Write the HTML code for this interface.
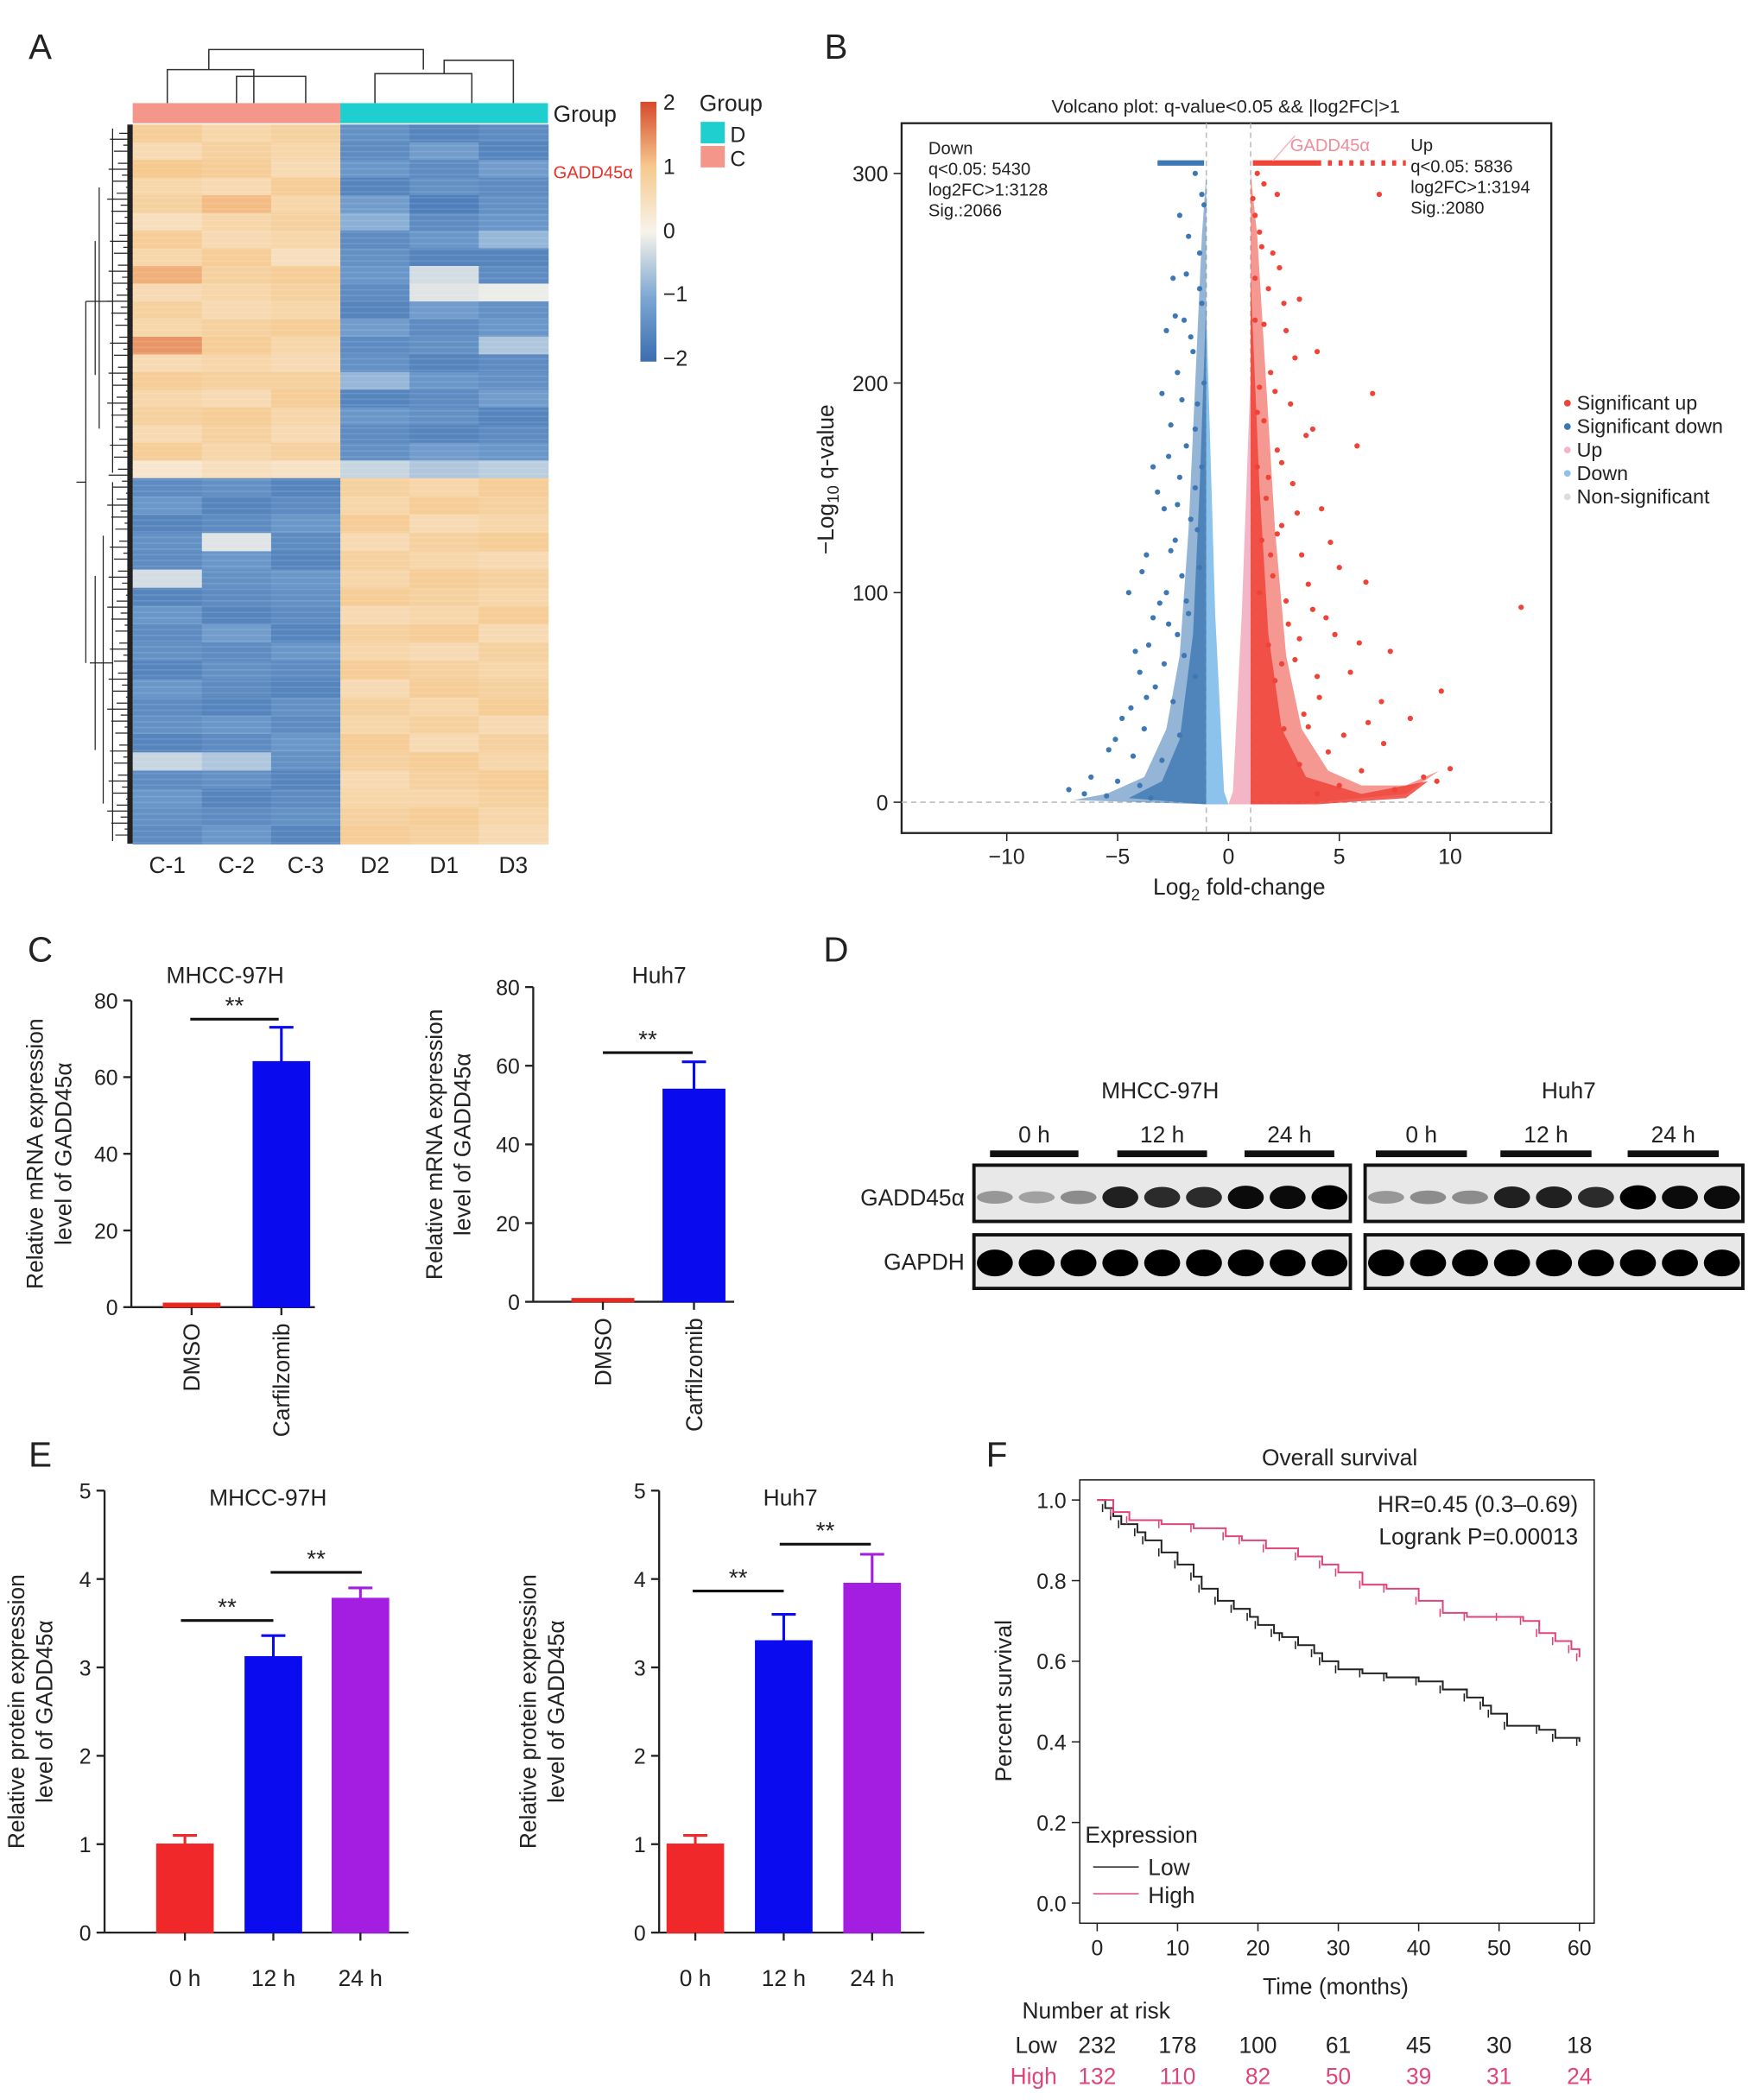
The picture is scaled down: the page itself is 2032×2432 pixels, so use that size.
<!DOCTYPE html>
<html><head><meta charset="utf-8"><style>
html,body{margin:0;padding:0;background:#fff}
svg{display:block}
text{font-family:"Liberation Sans",Arial,sans-serif;fill:#222}
</style></head><body>
<svg id="fig" width="2032" height="2432" viewBox="0 0 1310 1568" xmlns="http://www.w3.org/2000/svg">
<g id="heat"></g>
<g id="volc"></g>
<g id="barsC"></g>
<g id="blot"></g>
<g id="barsE"></g>
<g id="surv"></g>
</svg>
<script>
// ---------- data ----------
const heatCols = ["C-1","C-2","C-3","D2","D1","D3"];
const heatTop = [
[0.9,0.7,0.8,-1.4,-1.6,-1.5],[0.6,0.8,0.7,-1.5,-1.2,-1.6],[1.0,0.9,0.6,-1.3,-1.5,-1.2],[0.7,0.6,0.9,-1.6,-1.4,-1.5],
[0.8,1.1,0.7,-1.2,-1.7,-1.4],[0.5,0.7,0.8,-0.9,-1.5,-1.3],[0.9,0.6,0.7,-1.5,-1.3,-0.8],[0.7,0.9,0.5,-1.4,-1.6,-1.6],
[1.2,0.8,0.9,-1.3,-0.3,-1.5],[0.6,0.7,0.8,-1.5,-0.2,-0.1],[0.8,0.6,0.7,-1.6,-1.2,-1.4],[0.7,0.8,0.9,-1.2,-1.5,-1.3],
[1.4,0.9,0.7,-1.5,-1.4,-0.6],[0.6,0.7,0.6,-1.4,-1.6,-1.5],[0.9,0.8,0.8,-0.8,-1.3,-1.4],[0.7,0.6,0.9,-1.6,-1.5,-1.2],
[0.8,0.9,0.7,-1.3,-1.4,-1.6],[0.6,0.8,0.6,-1.5,-1.6,-1.5],[0.9,0.7,0.8,-1.4,-1.2,-1.3],[0.3,0.5,0.4,-0.4,-0.6,-0.5]
];
const heatBottom = [
[-1.5,-1.4,-1.6,0.8,0.7,0.9],[-1.3,-1.6,-1.5,0.7,0.9,0.8],[-1.6,-1.5,-1.3,0.9,0.6,0.7],[-1.4,-0.2,-1.5,0.6,0.8,0.9],
[-1.5,-1.3,-1.6,0.8,0.7,0.6],[-0.3,-1.4,-1.3,0.7,0.9,0.8],[-1.6,-1.5,-1.4,0.9,0.8,0.7],[-1.3,-1.6,-1.5,0.6,0.7,0.9],
[-1.5,-1.2,-1.6,0.8,0.9,0.6],[-1.4,-1.5,-1.3,0.7,0.6,0.8],[-1.6,-1.4,-1.5,0.9,0.8,0.7],[-1.3,-1.5,-1.6,0.6,0.9,0.8],
[-1.5,-1.6,-1.4,0.8,0.7,0.9],[-1.4,-1.3,-1.5,0.7,0.8,0.6],[-1.6,-1.5,-1.3,0.9,0.6,0.8],[-0.4,-0.6,-1.4,0.8,0.9,0.7],
[-1.5,-1.4,-1.6,0.6,0.8,0.9],[-1.3,-1.6,-1.5,0.7,0.7,0.8],[-1.4,-1.5,-1.4,0.8,0.9,0.7],[-1.5,-1.3,-1.6,0.9,0.8,0.6]
];
const volDown = [[-1.5,300],[-1.2,290],[-2.2,280],[-1.8,270],[-2.5,250],[-1.3,245],[-2.0,230],[-2.8,225],[-1.6,215],[-2.3,205],
[-3.0,195],[-1.4,190],[-2.6,180],[-1.9,170],[-3.4,160],[-2.2,155],[-1.5,150],[-2.9,140],[-1.7,135],[-2.4,125],[-3.7,118],
[-1.3,112],[-2.1,108],[-4.5,100],[-3.1,95],[-1.8,90],[-2.7,85],[-3.6,75],[-2.0,70],[-4.0,62],[-1.5,60],[-3.3,55],[-2.5,48],
[-4.8,40],[-3.8,35],[-2.2,32],[-5.4,25],[-4.3,22],[-3.0,20],[-6.2,12],[-5.0,10],[-4.0,8],[-7.2,6],[-6.5,4],[-5.5,3],[-3.5,2],
[-1.1,285],[-1.3,262],[-1.9,252],[-1.2,238],[-2.4,232],[-1.7,222],[-1.1,200],[-2.1,192],[-1.5,178],[-2.7,165],[-1.2,160],
[-3.2,148],[-2.3,142],[-1.4,130],[-2.6,120],[-3.9,110],[-2.8,100],[-1.9,96],[-3.4,88],[-2.3,80],[-4.2,72],[-2.9,66],[-3.7,50],[-4.4,45],[-5.1,30]];
const volUp = [[1.3,300],[1.6,295],[2.2,290],[1.2,280],[6.8,290],[1.5,265],[2.3,255],[1.8,245],[3.2,240],[1.2,230],[2.6,225],
[4.0,215],[1.9,205],[1.4,198],[2.8,190],[6.5,195],[1.6,182],[3.5,175],[2.2,168],[1.3,160],[5.8,170],[2.9,152],[1.7,145],
[4.2,140],[2.4,132],[1.5,125],[3.3,118],[5.0,112],[2.0,108],[6.2,105],[1.4,100],[13.2,93],[3.8,92],[2.7,85],[4.8,80],
[1.8,75],[7.3,72],[3.0,68],[5.5,62],[2.1,58],[9.6,53],[4.1,50],[6.9,48],[3.4,42],[8.2,40],[2.5,35],[5.2,32],[7.0,28],
[4.5,24],[10.0,16],[3.2,18],[6.0,15],[8.8,12],[5.0,8],[7.5,6],[9.4,10],[4.0,4],
[1.1,288],[1.4,272],[2.0,262],[1.2,250],[2.5,238],[1.6,228],[3.0,212],[2.1,196],[1.3,186],[3.8,178],[2.4,162],[1.8,155],
[3.1,138],[2.2,128],[4.6,124],[1.9,118],[3.6,104],[2.6,96],[4.4,88],[3.2,78],[5.9,76],[2.4,66],[4.0,60],[3.6,36],[6.3,38]];
const barCcats = ["DMSO","Carfilzomib"];
const barCmh = [1,64]; const barCmhErr = [0.3,73];
const barChuh = [0.8,54]; const barChuhErr = [0.3,61];
const barEcats = ["0 h","12 h","24 h"];
const barEmh = [1.0,3.12,3.78]; const barEmhErr = [1.1,3.36,3.9];
const barEhuh = [1.0,3.3,3.95]; const barEhuhErr = [1.1,3.6,4.28];
const survLowT = [0,1,2,3,5,6,8,10,12,13,15,17,19,20,22,23,25,27,28,30,33,36,40,43,46,48,49,51,55,57,60];
const survLowS = [1,0.98,0.96,0.94,0.92,0.9,0.87,0.84,0.81,0.78,0.75,0.73,0.71,0.69,0.67,0.66,0.64,0.62,0.6,0.58,0.57,0.56,0.55,0.53,0.51,0.49,0.47,0.44,0.43,0.41,0.40];
const survHighT = [0,2,4,8,12,16,18,21,25,28,30,33,36,40,43,46,50,53,55,57,59,60];
const survHighS = [1,0.97,0.95,0.94,0.93,0.91,0.9,0.88,0.86,0.84,0.82,0.79,0.78,0.75,0.72,0.71,0.71,0.7,0.67,0.65,0.63,0.61];
const riskLow = [232,178,100,61,45,30,18];
const riskHigh = [132,110,82,50,39,31,24];

// ---------- helpers ----------
const NS="http://www.w3.org/2000/svg";
function mk(p,tag,a,txt){const e=document.createElementNS(NS,tag);for(const k in a)e.setAttribute(k,a[k]);if(txt!==undefined)e.textContent=txt;p.appendChild(e);return e;}
function T(p,x,y,s,size,anchor,extra){const a=Object.assign({x:x,y:y,'font-size':size||16,'text-anchor':anchor||'middle'},extra||{});return mk(p,'text',a,s);}
function lerp(a,b,t){return a+(b-a)*t;}
function hex(c){return [parseInt(c.slice(1,3),16),parseInt(c.slice(3,5),16),parseInt(c.slice(5,7),16)];}
const stops=[[-2,"#3b6eb0"],[-1,"#7ea8d3"],[0,"#f8f3ea"],[1,"#f6c98e"],[2,"#d64a2c"]];
function cmap(v){v=Math.max(-2,Math.min(2,v));for(let i=0;i<4;i++){if(v<=stops[i+1][0]){const t=v-stops[i][0];const a=hex(stops[i][1]),b=hex(stops[i+1][1]);return `rgb(${a.map((x,j)=>Math.round(lerp(x,b[j],t))).join(',')})`;}}return stops[4][1];}

// ---------- A heatmap ----------
(function(){
const g=document.getElementById('heat');
let t=T(g,30,44,'A',26);
const x0=99,x1=409,cw=(x1-x0)/6,yTop=93,yMid=357,yBot=630;
const hx=i=>x0+i*cw;
function drawRows(rows,ya,yb){const rh=(yb-ya)/rows.length;rows.forEach((r,ri)=>r.forEach((v,ci)=>{const c=mk(g,'rect',{x:hx(ci),y:ya+ri*rh,width:cw+0.5,height:rh+0.5,fill:cmap(v)});

}));}
drawRows(heatTop,yTop,yMid);drawRows(heatBottom,yMid,yBot);
// fine stripe texture
let sd='';for(let y=yTop+3;y<yBot;y+=4.3){sd+=`M${x0},${y.toFixed(1)}H${x1} `;}
mk(g,'path',{d:sd,stroke:'#ffffff','stroke-opacity':0.12,'stroke-width':1});
let r1=mk(g,'rect',{x:x0,y:77,width:cw*3,height:15,fill:'#f4968a'});
let r2=mk(g,'rect',{x:x0+cw*3,y:77,width:cw*3,height:15,fill:'#1fcfd0'});
T(g,413,91,'Group',17,'start');
mk(g,'path',{d:`M${hx(0.5)},77V52H${hx(1.75)}V77 M${hx(1.5)},77V57H${hx(2.5)}V77 M${hx(1.1)},52V37H${hx(4.2)}V52 M${hx(3.5)},77V55H${hx(4.9)}V77 M${hx(4.5)},55V45H${hx(5.5)}V77`,stroke:'#333',fill:'none','stroke-width':1});
let d='';for(let i=0;i<120;i++){const y=yTop+2+i*(yBot-yTop-4)/119;const len=3+((i*7)%17);d+=`M${x0},${y.toFixed(1)}H${x0-len} `;}
d+=`M${x0-15},96V353 M${x0-15},360V628 M${x0-15},225H${x0-35} M${x0-15},495H${x0-32} M${x0-35},225V495 M${x0-35},360H${x0-42} M${x0-25},140V320 M${x0-22},400V600 M${x0-28},180V280 M${x0-28},430V560`;
mk(g,'path',{d:d,stroke:'#222',fill:'none','stroke-width':0.8});
mk(g,'rect',{x:x0-4,y:yTop,width:4,height:yBot-yTop,fill:'#222'});
heatCols.forEach((c,i)=>{T(g,hx(i+0.5),652,c,17);});
let gl=T(g,413,133,'GADD45α',13,'start');gl.style.fill='#e8322a';
const defs=mk(g,'defs',{});const lg=mk(defs,'linearGradient',{id:'cb',x1:0,y1:0,x2:0,y2:1});
[["0","#d64a2c"],["0.25","#f6c98e"],["0.5","#f8f3ea"],["0.75","#7ea8d3"],["1","#3b6eb0"]].forEach(s=>mk(lg,'stop',{offset:s[0],'stop-color':s[1]}));
let cb=mk(g,'rect',{x:478,y:76,width:12,height:194,fill:'url(#cb)'});
[["2",82],["1",130],["0",178],["−1",225],["−2",273]].forEach(a=>T(g,495,a[1],a[0],16,'start'));
T(g,522,83,'Group',17,'start');
mk(g,'rect',{x:523,y:91,width:18,height:16,fill:'#1fcfd0'});T(g,545,106,'D',16,'start');
mk(g,'rect',{x:523,y:109,width:18,height:16,fill:'#f4968a'});T(g,545,124,'C',16,'start');
})();

// ---------- B volcano ----------
(function(){
const g=document.getElementById('volc');
T(g,624,44,'B',26);
const vx=v=>917+16.55*v, vy=q=>599-1.565*q;
T(g,915,84,'Volcano plot: q-value<0.05 && |log2FC|>1',14);
const box=mk(g,'rect',{x:673,y:92,width:485,height:530,fill:'none',stroke:'#222','stroke-width':1.5});

mk(g,'path',{d:`M${vx(-1)},92V622 M${vx(1)},92V622 M673,${vy(0)}H1158`,stroke:'#bbb','stroke-dasharray':'4,3','stroke-width':1});
const poly=(pts,fill,op)=>mk(g,'polygon',{points:pts.map(p=>vx(p[0])+','+vy(p[1])).join(' '),fill:fill,'fill-opacity':op});
poly([[-1,0],[-1,300],[-1.2,270],[-1.5,200],[-1.8,130],[-2.2,70],[-2.8,35],[-3.8,12],[-5.5,4],[-7,1],[-1,-1]],'#3d78b4',0.55);
poly([[-1,0],[-1,240],[-1.3,150],[-1.6,80],[-2.2,30],[-3,10],[-4.5,2],[-1,-1]],'#3d78b4',0.8);
poly([[-1,-1],[-1,235],[-0.6,90],[-0.2,5],[0,-1]],'#8cc3ec',1);
poly([[0,-1],[0.2,5],[0.6,90],[1,205],[1,-1]],'#f4b6c6',1);
poly([[1,-1],[1,300],[1.3,270],[1.7,200],[2.1,130],[2.6,70],[3.3,35],[4.5,15],[6,8],[8,8],[9.5,15],[8,4],[5,1],[3,-1]],'#ef4338',0.55);
poly([[1,-1],[1,250],[1.4,150],[1.8,80],[2.4,35],[3.5,12],[6,4],[9,10],[8,2],[4,-1]],'#ef4338',0.85);
volDown.forEach(p=>{const c=mk(g,'circle',{cx:vx(p[0]),cy:vy(p[1]),r:2,fill:'#3d78b4'});

});
volUp.forEach(p=>{const c=mk(g,'circle',{cx:vx(p[0]),cy:vy(p[1]),r:2,fill:'#ef4338'});

});
mk(g,'line',{x1:vx(-3.2),x2:vx(-1.1),y1:vy(305),y2:vy(305),stroke:'#3d78b4','stroke-width':4});
mk(g,'line',{x1:vx(1.1),x2:vx(4),y1:vy(305),y2:vy(305),stroke:'#ef4338','stroke-width':4});
mk(g,'line',{x1:vx(4),x2:vx(8),y1:vy(305),y2:vy(305),stroke:'#ef4338','stroke-width':4,'stroke-dasharray':'3,5'});
mk(g,'line',{x1:vx(2),x2:vx(3),y1:vy(306),y2:vy(318),stroke:'#f4b6c6','stroke-width':1});
let gl=T(g,963,113,'GADD45α',13,'start');gl.style.fill='#f08c9c';
['Down','q<0.05: 5430','log2FC>1:3128','Sig.:2066'].forEach((s,i)=>T(g,693,115+i*15.5,s,13,'start'));
['Up','q<0.05: 5836','log2FC>1:3194','Sig.:2080'].forEach((s,i)=>T(g,1053,113+i*15.5,s,13,'start'));
[-10,-5,0,5,10].forEach(v=>{mk(g,'line',{x1:vx(v),x2:vx(v),y1:622,y2:628,stroke:'#222'});T(g,vx(v),645,v<0?'−'+(-v):''+v,16);});
[0,100,200,300].forEach(v=>{mk(g,'line',{x1:667,x2:673,y1:vy(v),y2:vy(v),stroke:'#222'});T(g,663,vy(v)+6,''+v,16,'end');});
const xt=T(g,925,668,'',17);xt.innerHTML='Log<tspan font-size="12" dy="4">2</tspan><tspan dy="-4"> fold-change</tspan>';
const yt=T(g,0,0,'',17,'middle',{transform:'translate(622,358) rotate(-90)'});yt.innerHTML='−Log<tspan font-size="12" dy="4">10</tspan><tspan dy="-4"> q-value</tspan>';
[['Significant up','#ef4338'],['Significant down','#3d78b4'],['Up','#f4b6c6'],['Down','#8cc3ec'],['Non-significant','#ddd']].forEach((l,i)=>{
const y=306+i*17.5;mk(g,'circle',{cx:1170,cy:y-5,r:2.5,fill:l[1]});T(g,1177,y,l[0],15,'start');});
})();

// ---------- bar chart helper ----------
function barChart(g,opt){
const {ax,y0,yTop,max,ticks,centers,w,vals,errs,colors,cats,title,titleX,rotCats,ylab}=opt;
const sy=v=>y0-(y0-yTop)*v/max;
T(g,titleX,opt.titleY,title,17);
mk(g,'line',{x1:ax,x2:ax,y1:sy(max),y2:y0,stroke:'#222','stroke-width':1.5});
mk(g,'line',{x1:ax,x2:opt.axEnd,y1:y0,y2:y0,stroke:'#222','stroke-width':1.5});
ticks.forEach(t=>{mk(g,'line',{x1:ax-6,x2:ax,y1:sy(t),y2:sy(t),stroke:'#222','stroke-width':1.5});T(g,ax-10,sy(t)+6,''+t,16,'end');});
vals.forEach((v,i)=>{const cx=centers[i];
mk(g,'line',{x1:cx,x2:cx,y1:sy(errs[i]),y2:sy(v),stroke:colors[i],'stroke-width':2});
mk(g,'line',{x1:cx-9,x2:cx+9,y1:sy(errs[i]),y2:sy(errs[i]),stroke:colors[i],'stroke-width':2});
const b=mk(g,'rect',{x:cx-w/2,y:sy(v),width:w,height:y0-sy(v),fill:colors[i],stroke:colors[i]});


mk(g,'line',{x1:cx,x2:cx,y1:y0,y2:y0+6,stroke:'#222','stroke-width':1.5});
if(rotCats)T(g,0,0,cats[i],17,'end',{transform:`translate(${cx+6},${y0+12}) rotate(-90)`});
else T(g,cx,y0+40,cats[i],17);
});
const lt=T(g,0,0,'',17,'middle',{transform:`translate(${opt.ylx},${(y0+sy(max))/2}) rotate(-90)`});
lt.innerHTML=`<tspan x="0" dy="0">${ylab}</tspan><tspan x="0" dy="21">level of GADD45α</tspan>`;
(opt.sig||[]).forEach(s=>{mk(g,'line',{x1:s[0],x2:s[1],y1:s[2],y2:s[2],stroke:'#111','stroke-width':2});T(g,(s[0]+s[1])/2,s[2]-4,'**',18);});
return sy;
}

// ---------- C ----------
(function(){
const g=document.getElementById('barsC');
T(g,30,718,'C',26);
barChart(g,{ax:98,axEnd:235,y0:976,yTop:747,max:80,ticks:[0,20,40,60,80],centers:[143,210],w:42,vals:barCmh,errs:barCmhErr,colors:['#e8281f','#0a0aee'],cats:barCcats,title:'MHCC-97H',titleX:168,titleY:734,rotCats:true,ylab:'Relative mRNA expression',ylx:32,sig:[[142,208,761]]});
barChart(g,{ax:398,axEnd:548,y0:972,yTop:737,max:80,ticks:[0,20,40,60,80],centers:[450,518],w:46,vals:barChuh,errs:barChuhErr,colors:['#e8281f','#0a0aee'],cats:barCcats,title:'Huh7',titleX:492,titleY:734,rotCats:true,ylab:'Relative mRNA expression',ylx:330,sig:[[450,517,786]]});
})();

// ---------- D blot ----------
(function(){
const g=document.getElementById('blot');
T(g,624,718,'D',26);
T(g,866,820,'MHCC-97H',17);T(g,1171,820,'Huh7',17);
const groups=[[739,805,'0 h'],[834,901,'12 h'],[929,996,'24 h'],[1027,1095,'0 h'],[1120,1188,'12 h'],[1215,1283,'24 h']];
groups.forEach(q=>{T(g,(q[0]+q[1])/2,853,q[2],17);mk(g,'rect',{x:q[0],y:859,width:q[1]-q[0],height:5,fill:'#111'});});
T(g,720,900,'GADD45α',17,'end');T(g,720,948,'GAPDH',17,'end');
const gInt=[0.3,0.25,0.35,0.85,0.8,0.8,0.95,0.95,1.0, 0.3,0.35,0.35,0.85,0.85,0.8,1.0,0.95,0.95];
[[727,1008],[1019,1301]].forEach((bx,bi)=>{
[[870,912],[922,962]].forEach((row,ri)=>{
const r=mk(g,'rect',{x:bx[0],y:row[0],width:bx[1]-bx[0],height:row[1]-row[0],fill:'#e8e8e8',stroke:'#111','stroke-width':2.5});

const lw=(bx[1]-bx[0])/9;
for(let i=0;i<9;i++){const it=ri?1:gInt[bi*9+i];const cx=bx[0]+lw*(i+0.5),cy=(row[0]+row[1])/2+(ri?1:3);
const sh=Math.round(215*(1-it));
mk(g,'ellipse',{cx:cx,cy:cy,rx:lw*0.43,ry:ri?10:(3+6*it),fill:`rgb(${sh},${sh},${sh})`});}
});});
})();

// ---------- E ----------
(function(){
const g=document.getElementById('barsE');
T(g,30,1095,'E',26);
const cols=['#f0282a','#0b0bf0','#a31ee0'];
barChart(g,{ax:78,axEnd:305,y0:1443,yTop:1113,max:5,ticks:[0,1,2,3,4,5],centers:[138,204,269],w:42,vals:barEmh,errs:barEmhErr,colors:cols,cats:barEcats,title:'MHCC-97H',titleX:200,titleY:1124,rotCats:false,ylab:'Relative protein expression',ylx:18,sig:[[135,204,1210],[202,270,1174]]});
barChart(g,{ax:492,axEnd:690,y0:1443,yTop:1113,max:5,ticks:[0,1,2,3,4,5],centers:[519,585,651],w:42,vals:barEhuh,errs:barEhuhErr,colors:cols,cats:barEcats,title:'Huh7',titleX:590,titleY:1124,rotCats:false,ylab:'Relative protein expression',ylx:400,sig:[[517,585,1188],[582,650,1153]]});
})();

// ---------- F survival ----------
(function(){
const g=document.getElementById('surv');
T(g,744,1095,'F',26);
const sx=t=>819+6*t, sy=s=>1421-301*s;
T(g,1000,1094,'Overall survival',17);
const b=mk(g,'rect',{x:806,y:1105,width:384,height:331,fill:'none',stroke:'#222','stroke-width':1});

[0,0.2,0.4,0.6,0.8,1.0].forEach(v=>{mk(g,'line',{x1:800,x2:806,y1:sy(v),y2:sy(v),stroke:'#222'});T(g,796,sy(v)+6,v.toFixed(1),16,'end');});
[0,10,20,30,40,50,60].forEach(v=>{mk(g,'line',{x1:sx(v),x2:sx(v),y1:1436,y2:1442,stroke:'#222'});T(g,sx(v),1460,''+v,16);});
T(g,997,1489,'Time (months)',17);
T(g,0,0,'Percent survival',17,'middle',{transform:'translate(755,1270) rotate(-90)'});
function step(ts,ss,col,name){let d=`M${sx(ts[0])},${sy(ss[0])}`;for(let i=1;i<ts.length;i++)d+=`H${sx(ts[i])}V${sy(ss[i])}`;
const p=mk(g,'path',{d:d,fill:'none',stroke:col,'stroke-width':1.3});


ts.forEach((t,i)=>{if(i>0)mk(g,'line',{x1:sx(t)-2,x2:sx(t)-2,y1:sy(ss[i])-3,y2:sy(ss[i])+3,stroke:col,'stroke-width':1});});}
step(survLowT,survLowS,'#222','curve-low');
step(survHighT,survHighS,'#e0457a','curve-high');
T(g,1178,1129,'HR=0.45 (0.3–0.69)',17,'end');T(g,1178,1153,'Logrank P=0.00013',17,'end');
T(g,810,1376,'Expression',17,'start');
mk(g,'line',{x1:816,x2:850,y1:1394,y2:1394,stroke:'#222'});T(g,857,1400,'Low',17,'start');
mk(g,'line',{x1:816,x2:850,y1:1414,y2:1414,stroke:'#e0457a'});T(g,857,1421,'High',17,'start');
T(g,763,1507,'Number at risk',17,'start');
T(g,789,1533,'Low',17,'end');const hl=T(g,789,1556,'High',17,'end');hl.style.fill='#e0457a';
[0,10,20,30,40,50,60].forEach((v,i)=>{T(g,sx(v),1533,''+riskLow[i],17);const h=T(g,sx(v),1556,''+riskHigh[i],17);h.style.fill='#e0457a';});
})();
</script>
</body></html>
